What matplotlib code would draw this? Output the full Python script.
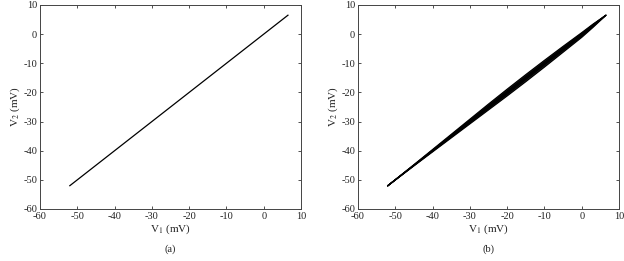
import matplotlib
matplotlib.use("Agg")
import matplotlib.pyplot as plt

plt.rcParams['font.family'] = ['Liberation Serif', 'DejaVu Serif']
plt.rcParams['mathtext.fontset'] = 'stix'
plt.rcParams['axes.unicode_minus'] = False

# Panel (a): synchronized (straight line)
a_v1 = [-52.0, 6.5]
a_v2 = [-52.0, 6.5]

# Panel (b): near-synchronized trajectory (thin loops around the diagonal)
b_v1 = [-52.0, -45.0, -40.0, -35.0, -30.0, -25.0, -20.0, -15.0, -10.0, -5.0, 0.0, 3.0, 6.5,
        3.0, 0.0, -5.0, -10.0, -15.0, -20.0, -25.0, -30.0, -35.0, -40.0, -45.0, -52.0]
b_v2_loop1 = [-52.0, -44.9, -39.8, -34.7, -29.6, -24.5, -19.5, -14.5, -9.6, -4.7, 0.2, 3.2, 6.5,
              2.6, -0.7, -5.6, -10.6, -15.6, -20.6, -25.5, -30.4, -35.3, -40.2, -45.1, -52.0]
b_v2_loop2 = [-52.0, -44.8, -39.6, -34.4, -29.2, -24.0, -18.9, -13.9, -9.0, -4.2, 0.5, 3.4, 6.5,
              2.3, -1.1, -6.2, -11.3, -16.3, -21.2, -26.0, -30.8, -35.6, -40.4, -45.2, -52.0]
b_v2_loop3 = [-52.0, -44.95, -39.9, -34.85, -29.8, -24.8, -19.8, -14.8, -9.8, -4.9, 0.0, 3.1, 6.5,
              2.8, -0.4, -5.3, -10.3, -15.3, -20.3, -25.3, -30.2, -35.15, -40.1, -45.05, -52.0]

ticks = [-60, -50, -40, -30, -20, -10, 0, 10]

fig = plt.figure(figsize=(6.24, 2.61), dpi=100)
ax1 = fig.add_axes([40/624, 1-209/261, 261/624, 204/261])
ax2 = fig.add_axes([358/624, 1-209/261, 261/624, 204/261])

ax1.plot(a_v1, a_v2, color='black', lw=0.9)
for loop in (b_v2_loop1, b_v2_loop2, b_v2_loop3):
    ax2.plot(b_v1, loop, color='black', lw=0.9)
ax2.fill(b_v1, b_v2_loop2, color='black', alpha=0.85, lw=0)

for ax, cap in ((ax1, '(a)'), (ax2, '(b)')):
    ax.set_xlim(-60, 10)
    ax.set_ylim(-60, 10)
    ax.set_xticks(ticks)
    ax.set_yticks(ticks)
    ax.tick_params(direction='in', length=2.5, width=0.6, labelsize=7.5,
                   top=True, right=True, pad=2, colors='#333333', labelcolor='#222222')
    for s in ax.spines.values():
        s.set_linewidth(0.7)
        s.set_color('#444444')
    ax.set_xlabel(r'V$_1$ (mV)', fontsize=8, labelpad=1, color='#222222')
    ax.set_ylabel(r'V$_2$ (mV)', fontsize=8, labelpad=1, color='#222222')
    ax.text(0.5, -0.175, cap, transform=ax.transAxes, ha='center', va='top',
            fontsize=7.5, color='#222222')

fig.savefig('out.png', dpi=100)
